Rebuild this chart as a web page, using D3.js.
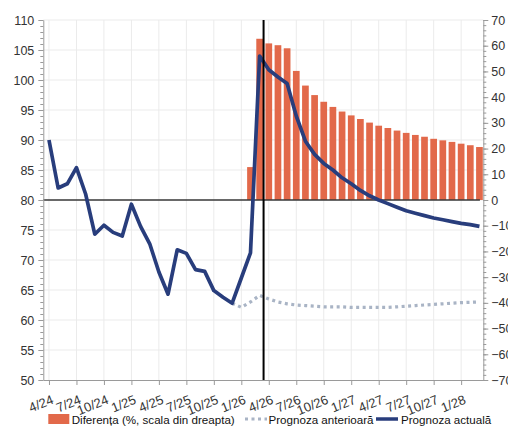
<!DOCTYPE html>
<html><head><meta charset="utf-8">
<script src="https://cdn.jsdelivr.net/npm/d3@7/dist/d3.min.js"></script>
<style>
html,body{margin:0;padding:0;background:#fff;}
svg{display:block;font-family:"Liberation Sans",Arial,sans-serif;}
</style></head>
<body><svg id="c" width="508" height="427"></svg>
<script>
// Month index 0 = 4/24 ... 47 = 3/28
const tickIdx = [0,3,6,9,12,15,18,21,24,27,30,33,36,39,42,45];
const tickLabels = ["4/24","7/24","10/24","1/25","4/25","7/25","10/25","1/26","4/26","7/26","10/26","1/27","4/27","7/27","10/27","1/28"];

// Prognoza actuală (left axis), months 0..47
const actual = [90.0,82.0,82.7,85.4,81.0,74.3,75.8,74.6,74.0,79.3,75.6,72.7,68.0,64.3,71.7,71.1,68.4,68.1,64.9,63.8,62.8,67.0,71.2,104.0,101.7,100.5,99.4,94.0,89.8,87.6,86.1,85.0,83.7,82.7,81.6,80.7,80.0,79.4,78.8,78.2,77.8,77.4,77.0,76.7,76.4,76.1,75.9,75.6];

// Prognoza anterioară (left axis), months 20..47
const prevStart = 20;
const previous = [62.8,62.1,63.0,64.1,63.5,63.0,62.7,62.5,62.4,62.3,62.2,62.2,62.2,62.1,62.1,62.1,62.1,62.1,62.2,62.3,62.4,62.5,62.6,62.7,62.8,62.9,62.95,63.0];

// Diferența (%, right axis), months 22..47
const diffStart = 22;
const diff = [12.8,62.7,60.9,60.2,59.0,50.2,44.5,40.8,38.2,36.2,34.4,32.9,31.5,30.1,28.9,28.0,27.0,26.1,25.3,24.6,23.8,23.2,22.6,21.9,21.3,20.6];

const markerIdx = 23.43;
const legendLabels = ["Diferența (%, scala din dreapta)","Prognoza anterioară","Prognoza actuală"];

const C = {bar:"#e2694a", navy:"#283d7c", prev:"#a9b4c5", axis:"#9a9a9a", grid:"#ebebeb", text:"#333"};

const svg = d3.select("#c");
const L=43.3, R=483.3, T=20, B=380;
const x = d3.scaleLinear().domain([-0.62,47.42]).range([L,R]);
const yL = d3.scaleLinear().domain([50,110]).range([B,T]);
const yR = d3.scaleLinear().domain([-70,70]).range([B,T]);

// grid
const g = svg.append("g");
g.selectAll("line.h").data(d3.range(55,111,5)).join("line")
 .attr("x1",L).attr("x2",R).attr("y1",d=>yL(d)).attr("y2",d=>yL(d))
 .attr("stroke",C.grid).attr("stroke-width",1);
g.selectAll("line.v").data(tickIdx).join("line")
 .attr("x1",d=>x(d)).attr("x2",d=>x(d)).attr("y1",T).attr("y2",B)
 .attr("stroke",C.grid).attr("stroke-width",1);

// bars
const bw = 6.7;
svg.append("g").selectAll("rect").data(diff).join("rect")
 .attr("x",(d,i)=>x(diffStart+i)-bw/2).attr("width",bw)
 .attr("y",d=>yR(Math.max(0,d))).attr("height",d=>Math.abs(yR(d)-yR(0)))
 .attr("fill",C.bar);

// zero line
svg.append("line").attr("x1",L).attr("x2",x(47.05)).attr("y1",yR(0)).attr("y2",yR(0))
 .attr("stroke","#3a3a3a").attr("stroke-width",1.5);

// previous forecast
svg.append("path").datum(previous)
 .attr("d",d3.line().x((d,i)=>x(prevStart+i)).y(d=>yL(d)))
 .attr("fill","none").attr("stroke",C.prev).attr("stroke-width",3.2).attr("stroke-dasharray","3,3.5");

// actual
svg.append("path").datum(actual)
 .attr("d",d3.line().x((d,i)=>x(i)).y(d=>yL(d)))
 .attr("fill","none").attr("stroke",C.navy).attr("stroke-width",3.7).attr("stroke-linejoin","round");

// marker vertical line
svg.append("line").attr("x1",x(markerIdx)).attr("x2",x(markerIdx)).attr("y1",T).attr("y2",B)
 .attr("stroke","#000").attr("stroke-width",2);

// axes
function styleAxis(sel, fs){
  sel.select(".domain").attr("stroke",C.axis);
  sel.selectAll(".tick line").attr("stroke",C.axis);
  sel.selectAll("text").attr("fill",C.text).style("font-size",fs);
}
// left minor
svg.append("g").attr("transform",`translate(${L},0)`)
 .call(d3.axisLeft(yL).tickValues(d3.range(50,111,1)).tickSize(3).tickFormat(""))
 .call(s=>{s.select(".domain").remove(); s.selectAll("line").attr("stroke",C.axis);});
const ax = svg.append("g").attr("transform",`translate(${L},0)`)
 .call(d3.axisLeft(yL).tickValues(d3.range(50,111,5)).tickSize(5).tickSizeOuter(0).tickPadding(4));
styleAxis(ax,"12.5px");
// right minor
svg.append("g").attr("transform",`translate(${R},0)`)
 .call(d3.axisRight(yR).tickValues(d3.range(-70,71,2)).tickSize(3).tickFormat(""))
 .call(s=>{s.select(".domain").remove(); s.selectAll("line").attr("stroke",C.axis);});
const ar = svg.append("g").attr("transform",`translate(${R},0)`)
 .call(d3.axisRight(yR).tickValues(d3.range(-70,71,10)).tickSize(5).tickSizeOuter(0).tickPadding(3));
styleAxis(ar,"12.5px");
// bottom
const ab = svg.append("g").attr("transform",`translate(0,${B})`)
 .call(d3.axisBottom(x).tickValues(tickIdx).tickSize(5).tickSizeOuter(0).tickFormat((d,i)=>tickLabels[i]));
styleAxis(ab,"13px");
ab.selectAll("text").attr("text-anchor","end").attr("dy",null).attr("y",null)
 .attr("transform","translate(5,23) rotate(-22)");

// legend
const lg = svg.append("g").style("font-size","11.6px").attr("fill","#111");
lg.append("rect").attr("x",48.3).attr("y",414).attr("width",21).attr("height",10).attr("fill",C.bar);
lg.append("text").attr("x",71.7).attr("y",423.5).text(legendLabels[0]);
lg.append("line").attr("x1",245).attr("x2",267).attr("y1",419).attr("y2",419)
 .attr("stroke",C.prev).attr("stroke-width",3.2).attr("stroke-dasharray","3,3.5");
lg.append("text").attr("x",268.5).attr("y",423.5).text(legendLabels[1]);
lg.append("line").attr("x1",376).attr("x2",398).attr("y1",419).attr("y2",419)
 .attr("stroke",C.navy).attr("stroke-width",3.5);
lg.append("text").attr("x",401).attr("y",423.5).text(legendLabels[2]);
</script></body></html>
